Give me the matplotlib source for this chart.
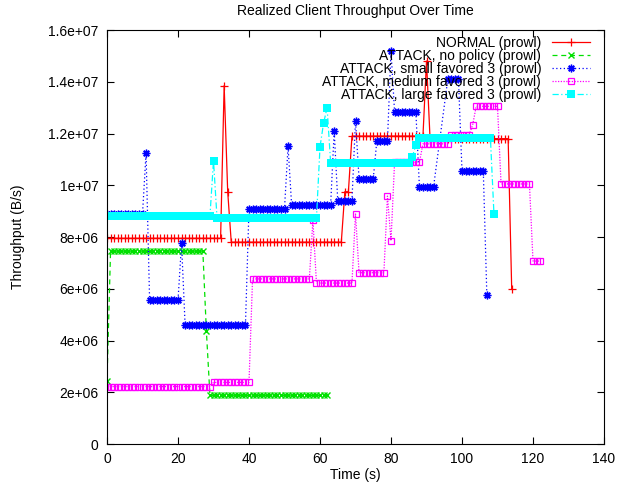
import matplotlib
matplotlib.use('Agg')
import matplotlib.pyplot as plt
from matplotlib.ticker import FuncFormatter
import numpy as np

plt.rcParams['font.family'] = ['Liberation Sans', 'DejaVu Sans']

# runs: (first second, last second, throughput in 1e6 B/s)
normal_runs = [(0, 32, 7.95), (33, 33, 13.85), (34, 34, 9.75), (35, 66, 7.8),
               (67, 68, 9.75), (69, 89, 11.9), (90, 90, 14.8), (91, 113, 11.8),
               (114, 114, 6.0)]
no_policy_runs = [(0, 0, 2.45), (1, 27, 7.45), (28, 28, 4.35), (29, 62, 1.88)]
small_runs = [(0, 10, 8.88), (11, 11, 11.25), (12, 20, 5.55), (21, 21, 7.75),
              (22, 39, 4.6), (40, 50, 9.1), (51, 51, 11.5), (52, 63, 9.25),
              (64, 64, 12.1), (65, 69, 9.4), (70, 70, 12.5), (71, 75, 10.25),
              (76, 79, 11.7), (80, 80, 15.2), (81, 87, 12.85), (88, 92, 9.95),
              (96, 99, 14.1), (100, 106, 10.55), (107, 107, 5.75)]
medium_runs = [(0, 29, 2.22), (30, 40, 2.38), (41, 57, 6.38), (58, 58, 8.65),
               (59, 69, 6.22), (70, 70, 8.89), (71, 78, 6.62), (79, 79, 9.58),
               (80, 80, 7.85), (81, 88, 10.88), (89, 96, 11.6), (97, 102, 11.95),
               (103, 103, 12.33), (104, 110, 13.05), (111, 119, 10.05),
               (120, 122, 7.07)]
large_runs = [(0, 29, 8.82), (30, 30, 10.95), (31, 59, 8.72), (60, 60, 11.48),
              (61, 61, 12.4), (62, 62, 13.0), (63, 85, 10.86), (86, 86, 11.1),
              (87, 87, 11.55), (88, 108, 11.83), (109, 109, 8.9)]

labels = ['NORMAL (prowl)', 'ATTACK, no policy (prowl)',
          'ATTACK, small favored 3 (prowl)', 'ATTACK, medium favored 3 (prowl)',
          'ATTACK, large favored 3 (prowl)']


def expand(runs):
    xs, ys = [], []
    for a, b, v in runs:
        for t in range(a, b + 1):
            xs.append(t)
            ys.append(v * 1e6)
    return xs, ys


fig = plt.figure(figsize=(6.21, 4.86), dpi=100)
ax = fig.add_axes([107 / 621, 1 - 444 / 486, 497 / 621, 414 / 486])

styles = [
    dict(color='#ff0000', ls='-', marker='+', ms=6, mew=0.9),
    dict(color='#00e000', ls=(0, (4, 3)), marker='x', ms=4.5, mew=1.0),
    dict(color='#0000ff', ls=(0, (1, 2)), marker=(8, 2, 0), ms=5.5, mew=1.0),
    dict(color='#ff00ff', ls=(0, (1, 1.2)), marker='s', ms=5, mew=0.9, mfc='none'),
    dict(color='#00ffff', ls=(0, (5, 2, 1, 2)), marker='s', ms=6, mew=0),
]

for runs, lab, st in zip([normal_runs, no_policy_runs, small_runs, medium_runs, large_runs],
                         labels, styles):
    x, y = expand(runs)
    ax.plot(x, y, lw=0.9, label=lab, **st)

ax.set_xlim(0, 140)
ax.set_ylim(0, 1.6e7)
ax.set_xticks(np.arange(0, 141, 20))
ax.set_yticks(np.arange(0, 1.61e7, 2e6))
ax.yaxis.set_major_formatter(FuncFormatter(lambda v, p: '%g' % v))
ax.tick_params(direction='in', top=True, right=True, length=5, labelsize=10, pad=6)

ax.set_title('Realized Client Throughput Over Time', fontsize=10, pad=11)
ax.set_xlabel('Time (s)', fontsize=10, labelpad=1)
ax.set_ylabel('Throughput (B/s)', fontsize=10, labelpad=17)

ax.legend(loc='upper right', bbox_to_anchor=(0.991, 1.01), frameon=False,
          markerfirst=False, numpoints=1, fontsize=10, labelspacing=-0.07,
          handlelength=2.7, handletextpad=0.8, borderpad=0.2)

fig.savefig('out.png', dpi=100)
